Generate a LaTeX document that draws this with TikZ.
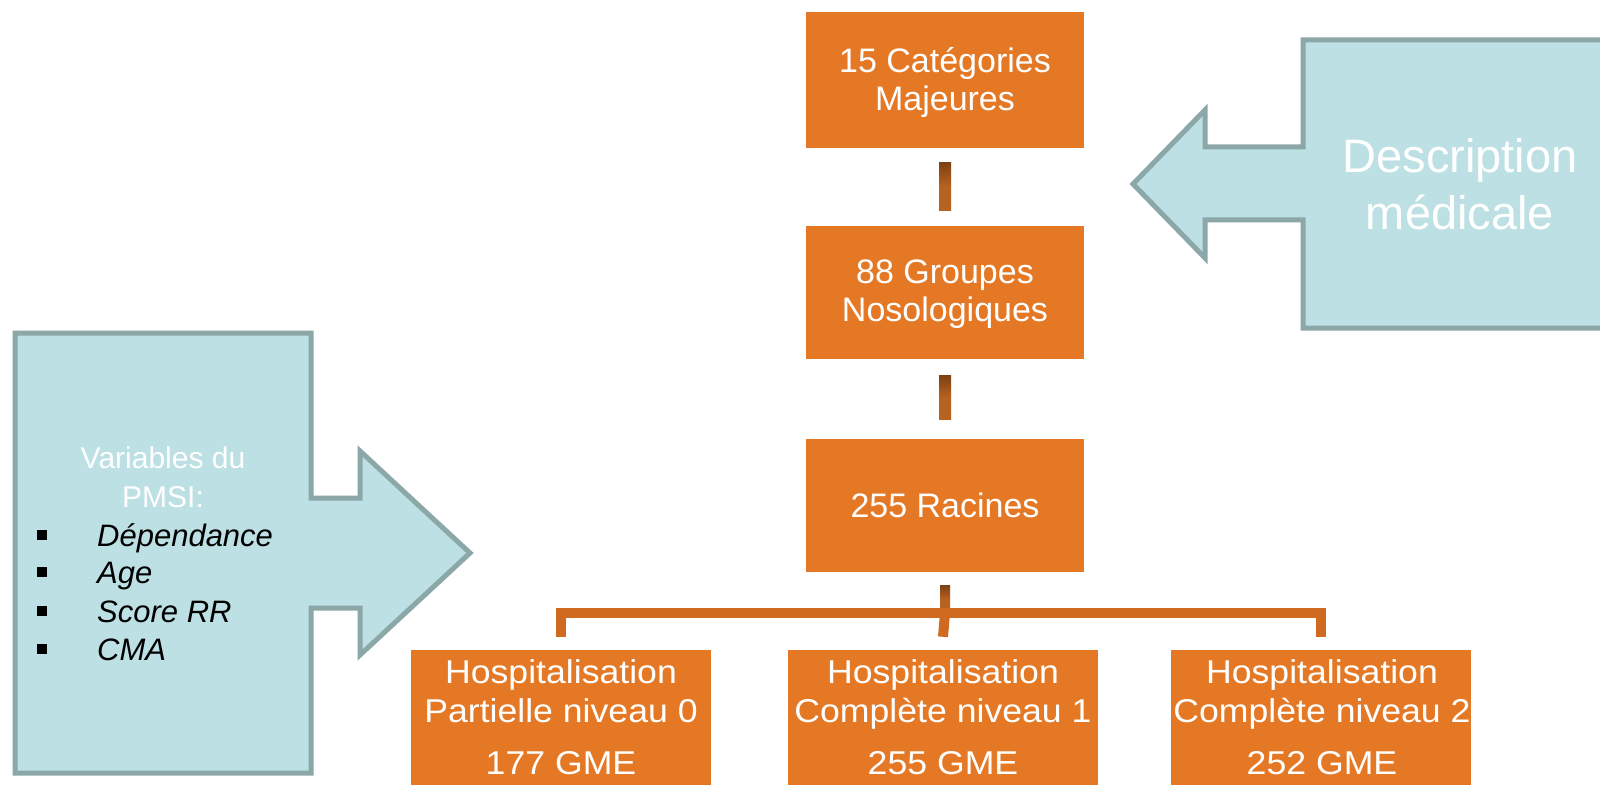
\documentclass[tikz,border=0pt]{standalone}
\usepackage{fontspec}
\setmainfont{Liberation Sans}
\newfontfamily\bottomfont[FakeStretch=1.08]{Liberation Sans}
\definecolor{boxor}{HTML}{E57824}
\definecolor{brkc}{HTML}{D06A20}
\definecolor{stemc}{HTML}{B8621F}
\definecolor{stemd}{HTML}{7E4014}
\definecolor{calfill}{HTML}{BCE0E3}
\definecolor{caldraw}{HTML}{8BA7A8}
\begin{document}
\begin{tikzpicture}[x=1pt,y=-1pt,
  obox/.style={fill=boxor, draw=none, inner sep=0pt},
  toptxt/.style={text=white, font=\fontsize{34}{38}\selectfont, align=center, anchor=base, inner sep=0pt},
  bottxt/.style={text=white, font=\bottomfont\fontsize{33}{39}\selectfont, align=center, anchor=base, inner sep=0pt},
  callout/.style={fill=calfill, draw=caldraw, line width=5pt, line join=miter},
  brkline/.style={draw=brkc, line width=10pt, line join=miter},
  bul/.style={fill=black, minimum size=10pt, inner sep=0pt},
  item/.style={font=\itshape\fontsize{31}{38}\selectfont, anchor=base west, inner sep=0pt}
]
\useasboundingbox[fill=white] (0,0) rectangle (1600,794);

% callouts
\filldraw[callout] (1620,40) -- (1303,40) -- (1303,147) -- (1205,147) -- (1205,110) -- (1133,184)
  -- (1205,258) -- (1205,220) -- (1303,220) -- (1303,328) -- (1620,328) -- cycle;
\filldraw[callout] (15,333) -- (311,333) -- (311,498) -- (360,498) -- (360,451) -- (470,553)
  -- (360,655) -- (360,608) -- (311,608) -- (311,773) -- (15,773) -- cycle;

% boxes
\node[obox, minimum width=278pt, minimum height=136pt] (b1) at (945,80) {};
\node[obox, minimum width=278pt, minimum height=133pt] (b2) at (945,292.5) {};
\node[obox, minimum width=278pt, minimum height=133pt] (b3) at (945,505.5) {};
\node[obox, minimum width=300pt, minimum height=135pt] (h0) at (561,717.5) {};
\node[obox, minimum width=310pt, minimum height=135pt] (h1) at (943,717.5) {};
\node[obox, minimum width=300pt, minimum height=135pt] (h2) at (1321,717.5) {};

% texts of boxes (base anchor = baseline of last line)
\node[toptxt] (t1) at (945,111) {15 Catégories\\Majeures};
\node[toptxt] (t2) at (945,321) {88 Groupes\\Nosologiques};
\node[toptxt] (t3) at (945,517) {255 Racines};
\node[bottxt] (u0) at (561,774) {Hospitalisation\\Partielle niveau 0\\[13pt]177 GME};
\node[bottxt] (u1) at (943,774) {Hospitalisation\\Complète niveau 1\\[13pt]255 GME};
\node[bottxt] (u2) at (1322,774) {Hospitalisation\\Complète niveau 2\\[13pt]252 GME};

% connectors
\shade[top color=stemd, bottom color=stemc, middle color=stemc]
  ([xshift=-6pt,yshift=-14pt]b1.south) rectangle ([xshift=6pt,yshift=15pt]b2.north);
\shade[top color=stemd, bottom color=stemc, middle color=stemc]
  ([xshift=-6pt,yshift=-16pt]b2.south) rectangle ([xshift=6pt,yshift=19pt]b3.north);
\coordinate (bar) at (945,613);
\shade[top color=stemd, bottom color=stemc, middle color=stemc]
  ([xshift=-5pt,yshift=-13pt]b3.south) rectangle ([xshift=5pt]bar);
\draw[brkline] ([yshift=13pt]h0.north) |- (bar) -| ([yshift=13pt]h2.north);
\draw[brkline] (bar) -- ([yshift=13pt]h1.north);

% callout texts
\node[text=white, font=\fontsize{47}{57}\selectfont, align=center, anchor=base, inner sep=0pt]
  (desc) at (1460,230) {Description\\médicale};
\node[text=white, font=\fontsize{30}{39}\selectfont, align=center, anchor=base, inner sep=0pt]
  (var) at (163,507) {Variables du\\PMSI:};
\node[bul] (s1) at (42,535) {};
\node[bul] (s2) at (42,572) {};
\node[bul] (s3) at (42,611) {};
\node[bul] (s4) at (42,649) {};
\node[item] (i1) at (97,546) {Dépendance};
\node[item] (i2) at (97,583) {Age};
\node[item] (i3) at (97,622) {Score RR};
\node[item] (i4) at (97,660) {CMA};
\end{tikzpicture}
\end{document}
